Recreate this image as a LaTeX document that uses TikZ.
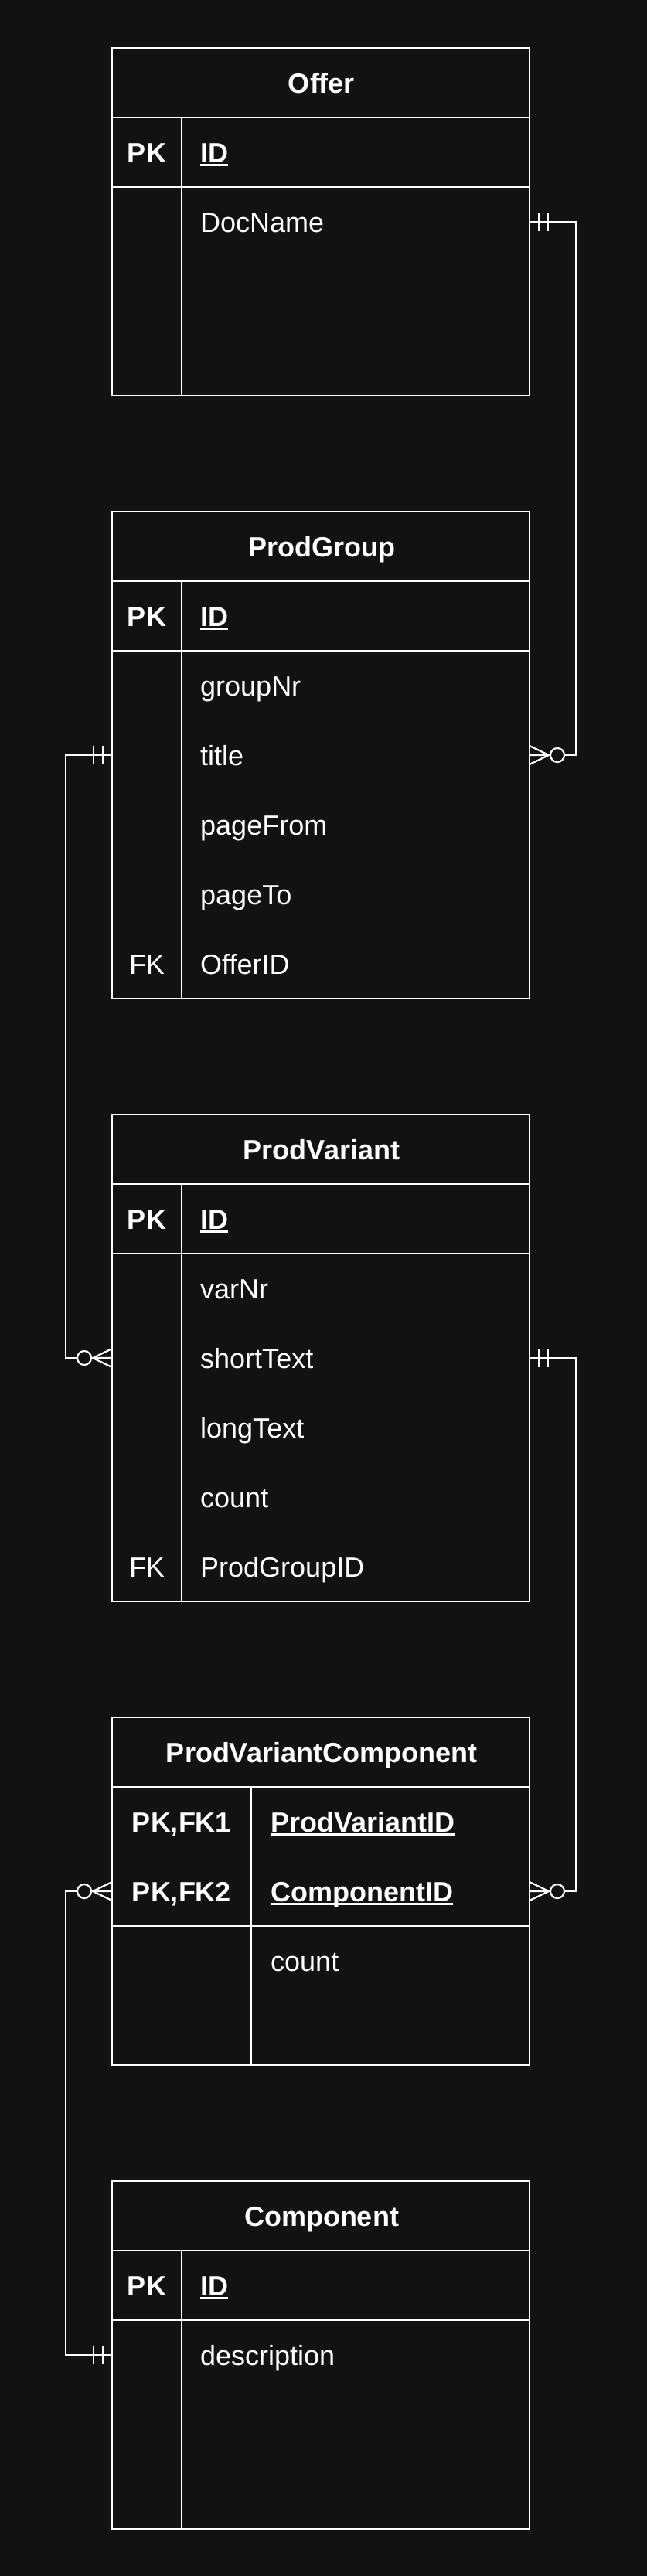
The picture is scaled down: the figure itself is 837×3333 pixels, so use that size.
\documentclass[tikz,border=0pt]{standalone}
\usepackage{fontspec}
\setmainfont{Liberation Sans}
\definecolor{bgdark}{HTML}{121212}
\newcommand{\erfont}{\fontsize{36}{43}\selectfont}
\newcommand{\keyname}[1]{\setbox0\hbox{#1}\rlap{\rule[-5pt]{\wd0}{2.6pt}}\box0}
\tikzset{
  table/.style={draw=white, line width=2.6pt, fill=bgdark, anchor=north west,
    minimum width=540pt, inner sep=0pt, outer sep=0pt},
  grid/.style={draw=white, line width=2.6pt},
  head/.style={text=white, font=\erfont\bfseries, text height=26pt, text depth=0pt, inner sep=0pt},
  field/.style={text=white, font=\erfont, anchor=west, text height=26pt, text depth=0pt, inner sep=0pt},
  keyfield/.style={text=white, font=\erfont, text height=26pt, text depth=0pt, inner sep=0pt},
  conn/.style={draw=white, line width=1.9pt},
  mustone/.pic={
    \draw[white, line width=2.2pt] (12,-12) -- (12,12) (24,-12) -- (24,12);
  },
  zeromany/.pic={
    \draw[white, line width=2.2pt] (0,-12) -- (25,0) -- (0,12) (0,0) -- (25,0);
    \draw[white, line width=2.2pt, fill=bgdark] (36,0) circle (9);
  }
}
\begin{document}
\begin{tikzpicture}[x=1pt, y=-1pt]
% Background
\fill[bgdark] (0,0) rectangle (837,3333);

% Offer
\node[table, minimum height=450pt] (offer) at (145,62) {};
\draw[grid] (145,152) -- (685,152) (145,242) -- (685,242) (235,152) -- (235,512);
\node[head] (offer-head) at (416,107) {Offer};
\node[keyfield, font=\erfont\bfseries] (offer-pk) at (190,197) {PK};
\node[field] (offer-id) at (259,197) {\keyname{\bfseries ID}};
\node[field] (offer-docname) at (259,287) {DocName};

% ProdGroup
\node[table, minimum height=630pt] (pg) at (145,662) {};
\draw[grid] (145,752) -- (685,752) (145,842) -- (685,842) (235,752) -- (235,1292);
\node[head] (pg-head) at (416,707) {ProdGroup};
\node[keyfield, font=\erfont\bfseries] (pg-pk) at (190,797) {PK};
\node[field] (pg-id) at (259,797) {\keyname{\bfseries ID}};
\node[field] (pg-groupnr) at (259,887) {groupNr};
\node[field] (pg-title) at (259,977) {title};
\node[field] (pg-pagefrom) at (259,1067) {pageFrom};
\node[field] (pg-pageto) at (259,1157) {pageTo};
\node[keyfield] (pg-fk) at (190,1247) {FK};
\node[field] (pg-offerid) at (259,1247) {OfferID};

% ProdVariant
\node[table, minimum height=630pt] (pv) at (145,1442) {};
\draw[grid] (145,1532) -- (685,1532) (145,1622) -- (685,1622) (235,1532) -- (235,2072);
\node[head] (pv-head) at (416,1487) {ProdVariant};
\node[keyfield, font=\erfont\bfseries] (pv-pk) at (190,1577) {PK};
\node[field] (pv-id) at (259,1577) {\keyname{\bfseries ID}};
\node[field] (pv-varnr) at (259,1667) {varNr};
\node[field] (pv-shorttext) at (259,1757) {shortText};
\node[field] (pv-longtext) at (259,1847) {longText};
\node[field] (pv-count) at (259,1937) {count};
\node[keyfield] (pv-fk) at (190,2027) {FK};
\node[field] (pv-groupid) at (259,2027) {ProdGroupID};

% ProdVariantComponent
\node[table, minimum height=450pt] (pvc) at (145,2222) {};
\draw[grid] (145,2312) -- (685,2312) (145,2492) -- (685,2492) (325,2312) -- (325,2672);
\node[head] (pvc-head) at (416,2267) {ProdVariantComponent};
\node[keyfield, font=\erfont\bfseries] (pvc-pk1) at (235,2357) {PK,FK1};
\node[field] (pvc-varid) at (350,2357) {\keyname{\bfseries ProdVariantID}};
\node[keyfield, font=\erfont\bfseries] (pvc-pk2) at (235,2447) {PK,FK2};
\node[field] (pvc-compid) at (350,2447) {\keyname{\bfseries ComponentID}};
\node[field] (pvc-count) at (350,2537) {count};

% Component
\node[table, minimum height=450pt] (comp) at (145,2822) {};
\draw[grid] (145,2912) -- (685,2912) (145,3002) -- (685,3002) (235,2912) -- (235,3272);
\node[head] (comp-head) at (416,2867) {Component};
\node[keyfield, font=\erfont\bfseries] (comp-pk) at (190,2957) {PK};
\node[field] (comp-id) at (259,2957) {\keyname{\bfseries ID}};
\node[field] (comp-desc) at (259,3047) {description};

% Relations
\draw[conn] (offer-docname -| offer.east) -- ++(60,0) |- (pg-title -| pg.east);
\draw[conn] (pg-title -| pg.west) -- ++(-60,0) |- (pv-shorttext -| pv.west);
\draw[conn] (pv-shorttext -| pv.east) -- ++(60,0) |- (pvc-compid -| pvc.east);
\draw[conn] (comp-desc -| comp.west) -- ++(-60,0) |- (pvc-compid -| pvc.west);

\pic at (offer-docname -| offer.east) {mustone};
\pic at (pg-title -| pg.east) {zeromany};
\pic[rotate=180] at (pg-title -| pg.west) {mustone};
\pic[rotate=180] at (pv-shorttext -| pv.west) {zeromany};
\pic at (pv-shorttext -| pv.east) {mustone};
\pic at (pvc-compid -| pvc.east) {zeromany};
\pic[rotate=180] at (comp-desc -| comp.west) {mustone};
\pic[rotate=180] at (pvc-compid -| pvc.west) {zeromany};
\end{tikzpicture}
\end{document}
